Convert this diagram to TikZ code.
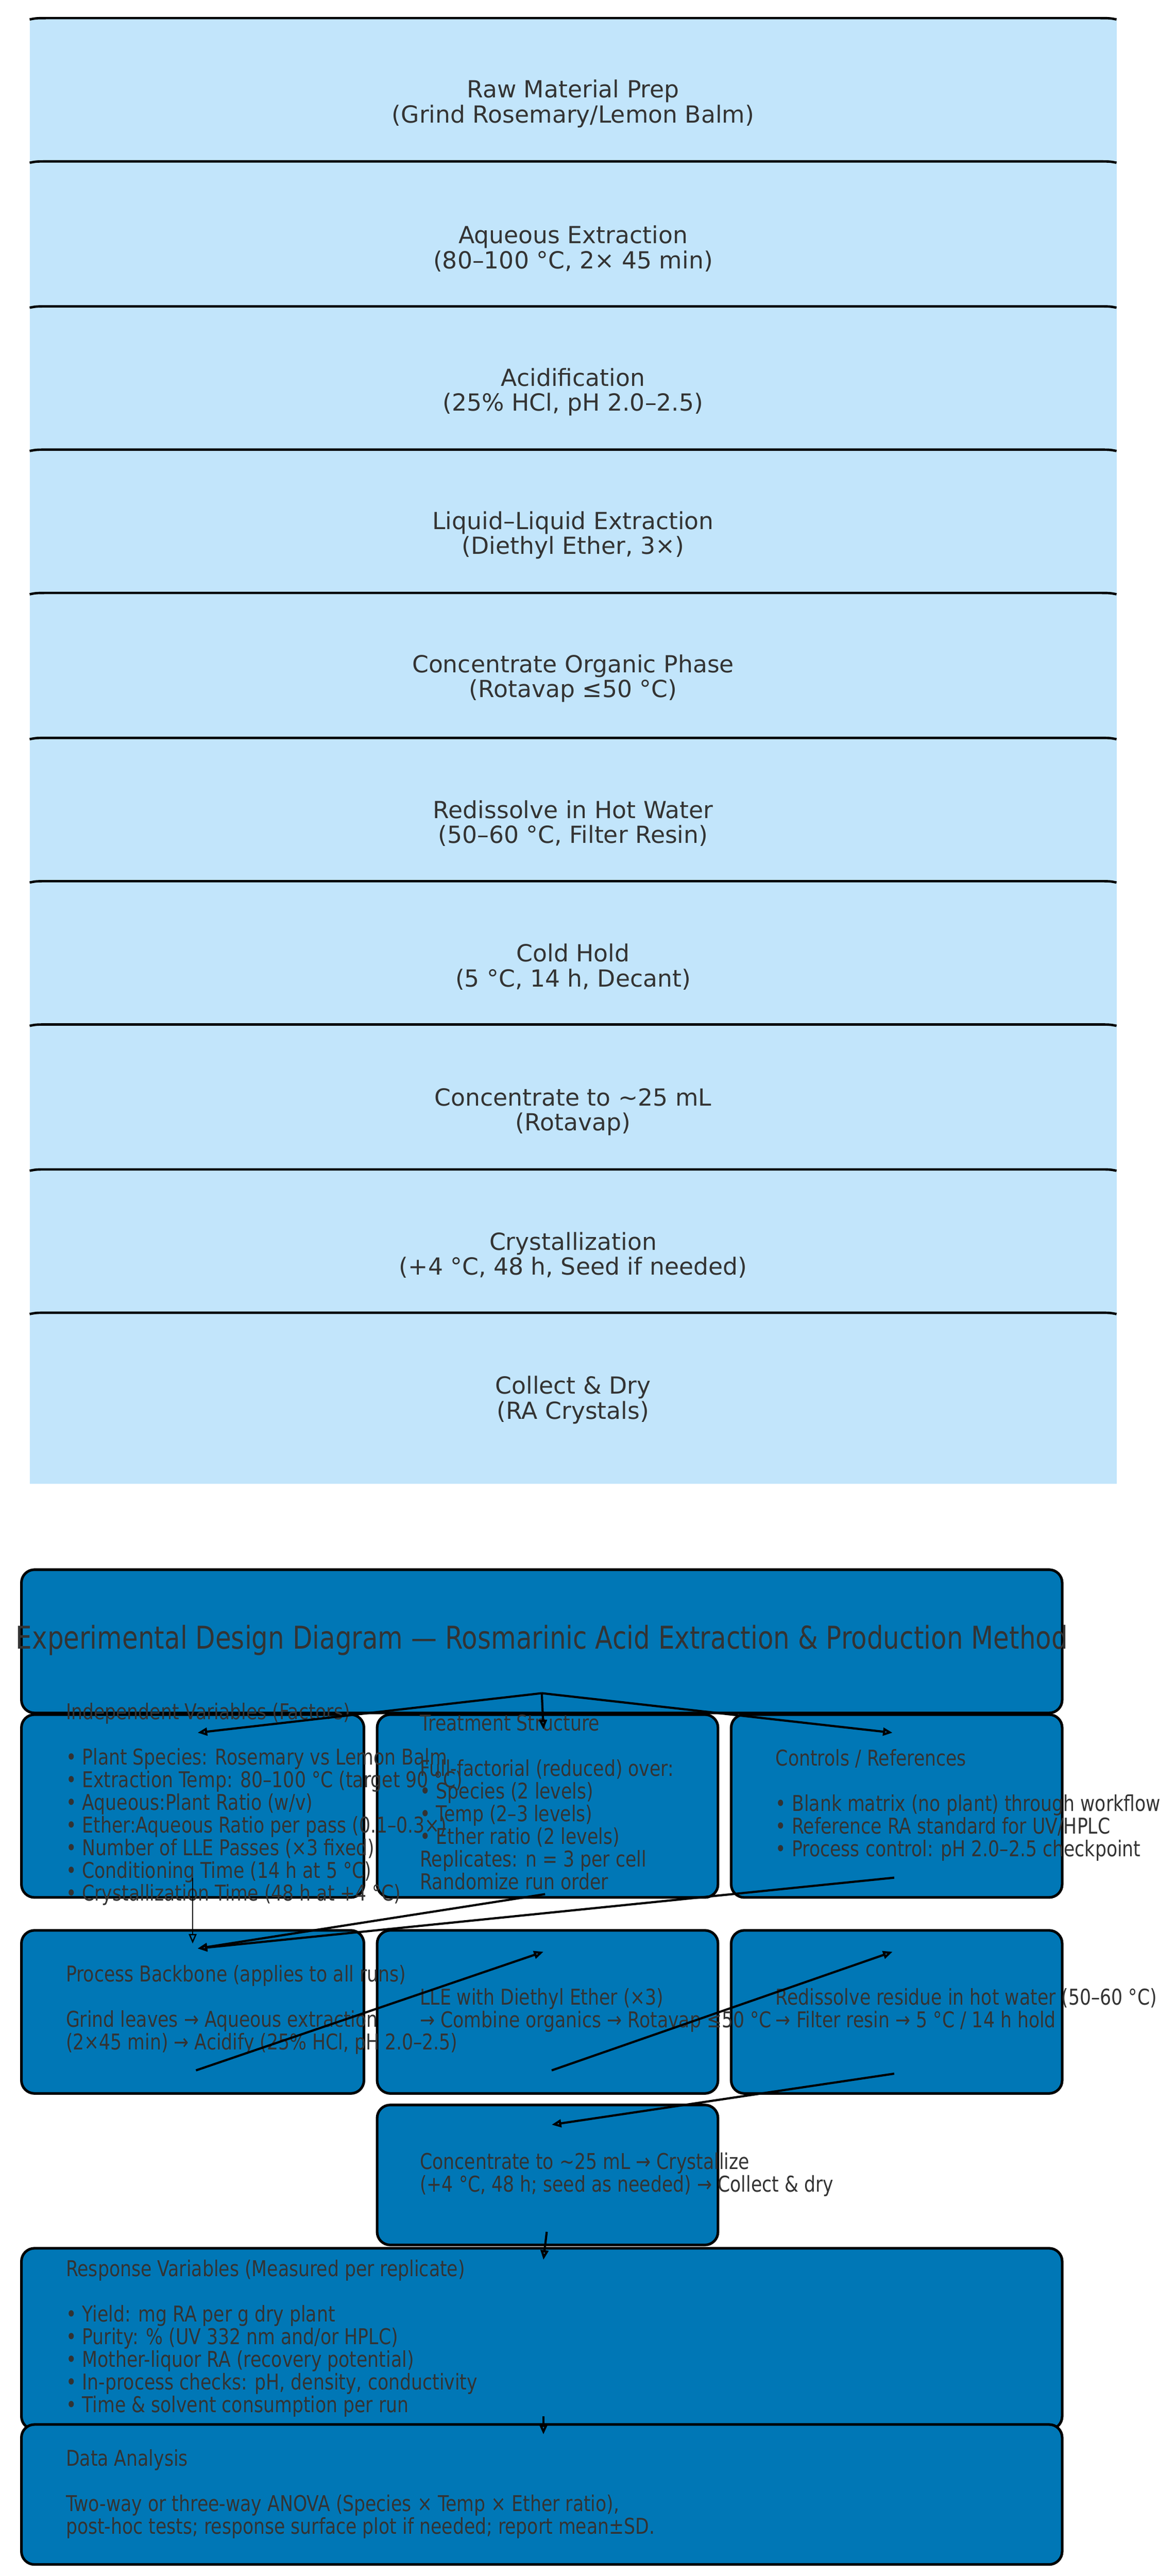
\documentclass[tikz,border=0pt]{standalone}
\usepackage{fontspec}
\setmainfont{DejaVu Sans}
\newfontfamily\cond[FakeStretch=0.82]{DejaVu Sans}
\usetikzlibrary{arrows.meta}
\definecolor{band}{HTML}{C2E5FB}
\definecolor{boxc}{HTML}{0077B6}
\definecolor{txt}{HTML}{333333}
\tikzset{
 bandtxt/.style={align=center,text=txt,font=\fontsize{54}{57}\selectfont},
 bx/.style={draw=black,line width=6pt,fill=boxc,rounded corners=30pt},
 btxt/.style={anchor=north west,align=left,text=txt,font=\cond\fontsize{50}{52}\selectfont,inner sep=0},
 arr/.style={line width=5pt,-{Triangle[open,length=22pt,width=18pt]}},
 sep/.style={line width=5.5pt}
}
\begin{document}
\begin{tikzpicture}[x=3.779pt,y=-3.779pt]
\useasboundingbox (0,0) rectangle (714,1564);
\fill[white] (0,0) rectangle (714,1564);
% bands
\fill[band] (18,11) rectangle (678,901);
\foreach \y in {11,98,186,273,360,448,535,622,710,797}{
 \draw[sep] (18,\y+0.8) .. controls (22,\y) .. (30,\y) -- (666,\y) .. controls (674,\y) .. (678,\y+0.8);
}
\node[bandtxt] (b1) at (348,63) {Raw Material Prep\\(Grind Rosemary/Lemon Balm)};
\node[bandtxt] (b2) at (348,151) {Aqueous Extraction\\(80–100 °C, 2× 45 min)};
\node[bandtxt] (b3) at (348,238) {Acidification\\(25\% HCl, pH 2.0–2.5)};
\node[bandtxt] (b4) at (348,325) {Liquid–Liquid Extraction\\(Diethyl Ether, 3×)};
\node[bandtxt] (b5) at (348,412) {Concentrate Organic Phase\\(Rotavap ≤50 °C)};
\node[bandtxt] (b6) at (348,500) {Redissolve in Hot Water\\(50–60 °C, Filter Resin)};
\node[bandtxt] (b7) at (348,587) {Cold Hold\\(5 °C, 14 h, Decant)};
\node[bandtxt] (b8) at (348,675) {Concentrate to \textasciitilde25 mL\\(Rotavap)};
\node[bandtxt] (b9) at (348,762) {Crystallization\\(+4 °C, 48 h, Seed if needed)};
\node[bandtxt] (b10) at (348,850) {Collect \& Dry\\(RA Crystals)};
% boxes
\draw[bx] (13,953) rectangle (645,1040);
\draw[bx] (13,1041) rectangle (221,1152);
\draw[bx] (229,1041) rectangle (436,1152);
\draw[bx] (444,1041) rectangle (645,1152);
\draw[bx] (13,1172) rectangle (221,1271);
\draw[bx] (229,1172) rectangle (436,1271);
\draw[bx] (444,1172) rectangle (645,1271);
\draw[bx] (229,1278) rectangle (436,1363);
\draw[bx] (13,1365) rectangle (645,1475);
\draw[bx] (13,1472) rectangle (645,1557);
% texts
\node[text=txt,font=\cond\fontsize{72}{80}\selectfont,inner sep=0] (title) at (329,996) {Experimental Design Diagram — Rosmarinic Acid Extraction \& Production Method};
\node[btxt] (indep) at (40,1034) {Independent Variables (Factors)\\[52pt]• Plant Species: Rosemary vs Lemon Balm\\• Extraction Temp: 80–100 °C (target 90 °C)\\• Aqueous:Plant Ratio (w/v)\\• Ether:Aqueous Ratio per pass (0.1–0.3×)\\• Number of LLE Passes (×3 fixed)\\• Conditioning Time (14 h at 5 °C)\\• Crystallization Time (48 h at +4 °C)};
\node[btxt] (treat) at (255,1041) {Treatment Structure\\[52pt]Full-factorial (reduced) over:\\• Species (2 levels)\\• Temp (2–3 levels)\\• Ether ratio (2 levels)\\Replicates: n = 3 per cell\\Randomize run order};
\node[btxt] (ctrl) at (471,1062) {Controls / References\\[52pt]• Blank matrix (no plant) through workflow\\• Reference RA standard for UV/HPLC\\• Process control: pH 2.0–2.5 checkpoint};
\node[btxt] (proc) at (40,1193) {Process Backbone (applies to all runs)\\[52pt]Grind leaves → Aqueous extraction\\(2×45 min) → Acidify (25\% HCl, pH 2.0–2.5)};
\node[btxt] (lle) at (255,1207) {LLE with Diethyl Ether (×3)\\→ Combine organics → Rotavap ≤50 °C};
\node[btxt] (redis) at (471,1207) {Redissolve residue in hot water (50–60 °C)\\→ Filter resin → 5 °C / 14 h hold};
\node[btxt] (conc) at (255,1307) {Concentrate to \textasciitilde25 mL → Crystallize\\(+4 °C, 48 h; seed as needed) → Collect \& dry};
\node[btxt] (resp) at (40,1372) {Response Variables (Measured per replicate)\\[52pt]• Yield: mg RA per g dry plant\\• Purity: \% (UV 332 nm and/or HPLC)\\• Mother-liquor RA (recovery potential)\\• In-process checks: pH, density, conductivity\\• Time \& solvent consumption per run};
\node[btxt] (data) at (40,1487) {Data Analysis\\[52pt]Two-way or three-way ANOVA (Species × Temp × Ether ratio),\\post-hoc tests; response surface plot if needed; report mean±SD.};
% connector points
\coordinate (tO) at (329,1028);
\coordinate (iI) at (120,1052);
\coordinate (tI) at (330,1050);
\coordinate (cI) at (542,1052);
\coordinate (iO) at (117,1140);
\coordinate (pI) at (117,1180);
\coordinate (trO) at (331,1150);
\coordinate (pI2) at (120,1183);
\coordinate (cO) at (543,1140);
\coordinate (pO) at (119,1257);
\coordinate (lI) at (330,1185);
\coordinate (lO) at (335,1257);
\coordinate (rI) at (542,1185);
\coordinate (rO) at (543,1259);
\coordinate (coI) at (335,1290);
\coordinate (coO) at (332,1355);
\coordinate (reI) at (330,1372);
\coordinate (reO) at (330,1467);
\coordinate (dI) at (330,1478);
\draw[arr] (tO) -- (iI);
\draw[arr] (tO) -- (tI);
\draw[arr] (tO) -- (cI);
\draw[arr,line width=3pt] (iO) -- (pI);
\draw[arr] (trO) -- (pI2);
\draw[arr] (cO) -- (pI2);
\draw[arr] (pO) -- (lI);
\draw[arr] (lO) -- (rI);
\draw[arr] (rO) -- (coI);
\draw[arr] (coO) -- (reI);
\draw[arr] (reO) -- (dI);
\end{tikzpicture}
\end{document}
